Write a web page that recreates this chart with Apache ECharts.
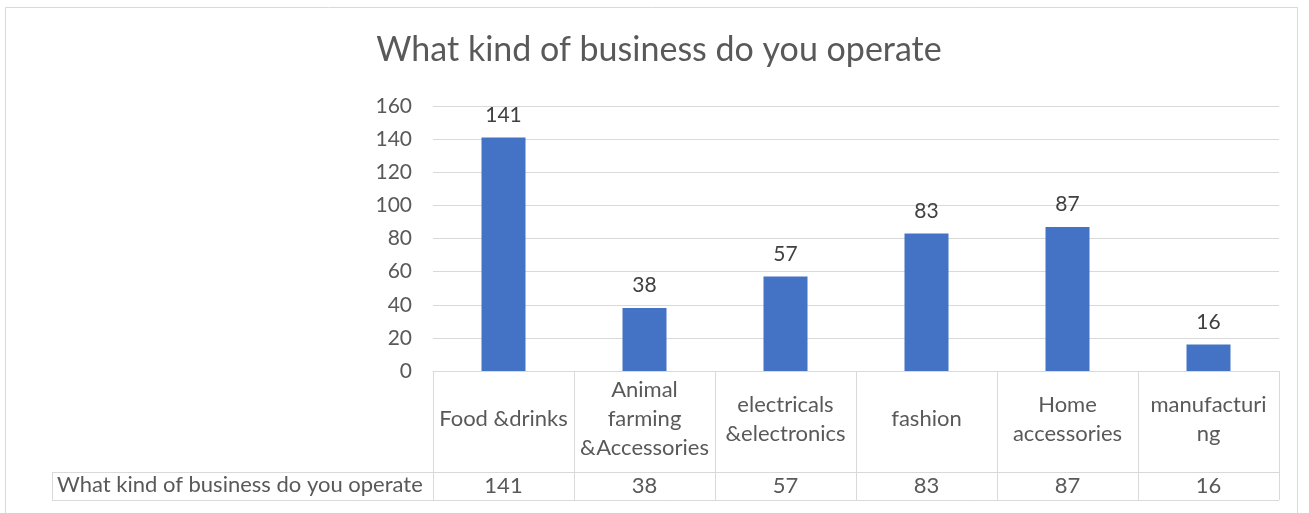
<!DOCTYPE html>
<html>
<head>
<meta charset="utf-8">
<script src="https://cdn.jsdelivr.net/npm/echarts@6/dist/echarts.min.js"></script>
<style>
  html,body{margin:0;padding:0;background:#fff;}
  #main{width:1309px;height:513px;}
</style>
</head>
<body>
<div id="main"></div>
<script>
// data
var titleText = 'What kind of business do you operate';
var categories = ['Food &drinks', 'Animal farming &Accessories', 'electricals &electronics', 'fashion', 'Home accessories', 'manufacturing'];
// how the category names wrap inside the table cells
var categoryLabels = ['Food &drinks', 'Animal\nfarming\n&Accessories', 'electricals\n&electronics', 'fashion', 'Home\naccessories', 'manufacturi\nng'];
var values = [141, 38, 57, 83, 87, 16];
var yTicks = [0, 20, 40, 60, 80, 100, 120, 140, 160];

var font = 'Lato';
var textColor = '#595959';
var lineColor = '#d9d9d9';

var chart = echarts.init(document.getElementById('main'));

chart.setOption({
  backgroundColor: '#fff',
  animation: false,
  title: {
    text: titleText,
    left: 654,
    top: 28,
    textAlign: 'center',
    textStyle: {fontFamily: font, fontSize: 34, fontWeight: 'normal', color: textColor}
  },
  grid: {left: 433, right: 30, top: 106, bottom: 142, containLabel: false},
  xAxis: [
    {
      type: 'category',
      data: categories,
      axisLine: {show: true, lineStyle: {color: lineColor, width: 1}},
      // ticks between categories make the table columns
      axisTick: {show: true, length: 129, alignWithLabel: false, lineStyle: {color: lineColor, width: 1}},
      axisLabel: {
        interval: 0,
        margin: 48,
        verticalAlign: 'middle',
        fontFamily: font,
        fontSize: 22,
        lineHeight: 29,
        color: textColor,
        formatter: function (v, i) { return categoryLabels[i]; }
      }
    },
    {
      // data row of the table
      type: 'category',
      position: 'bottom',
      offset: 101,
      data: values.map(function (v) { return String(v); }),
      axisLine: {show: true, lineStyle: {color: lineColor, width: 1}},
      axisTick: {show: false},
      axisLabel: {interval: 0, margin: 14, verticalAlign: 'middle', fontFamily: font, fontSize: 22, color: textColor}
    }
  ],
  yAxis: {
    type: 'value',
    min: yTicks[0],
    max: yTicks[yTicks.length - 1],
    interval: yTicks[1] - yTicks[0],
    axisLine: {show: false},
    axisTick: {show: false},
    splitLine: {lineStyle: {color: lineColor, width: 1}},
    axisLabel: {margin: 21, fontFamily: font, fontSize: 21, color: textColor}
  },
  series: [
    {
      name: titleText,
      type: 'bar',
      xAxisIndex: 0,
      data: values,
      barWidth: 44,
      itemStyle: {color: '#4472C4'},
      label: {show: true, position: 'top', distance: 12, fontFamily: font, fontSize: 21, color: '#404040'}
    }
  ],
  graphic: [
    // chart border
    {type: 'rect', shape: {x: 5.5, y: 7.5, width: 1292, height: 520}, style: {fill: 'none', stroke: lineColor, lineWidth: 1}, silent: true},
    // table row lines
    {type: 'line', shape: {x1: 52, y1: 472.5, x2: 433, y2: 472.5}, style: {stroke: lineColor, lineWidth: 1}},
    {type: 'line', shape: {x1: 52, y1: 500.5, x2: 1279, y2: 500.5}, style: {stroke: lineColor, lineWidth: 1}},
    {type: 'line', shape: {x1: 52.5, y1: 472, x2: 52.5, y2: 501}, style: {stroke: lineColor, lineWidth: 1}},
    {type: 'text', left: 57, top: 474, style: {text: titleText, fontFamily: font, fontSize: 22, fill: textColor}}
  ]
});
</script>
</body>
</html>
